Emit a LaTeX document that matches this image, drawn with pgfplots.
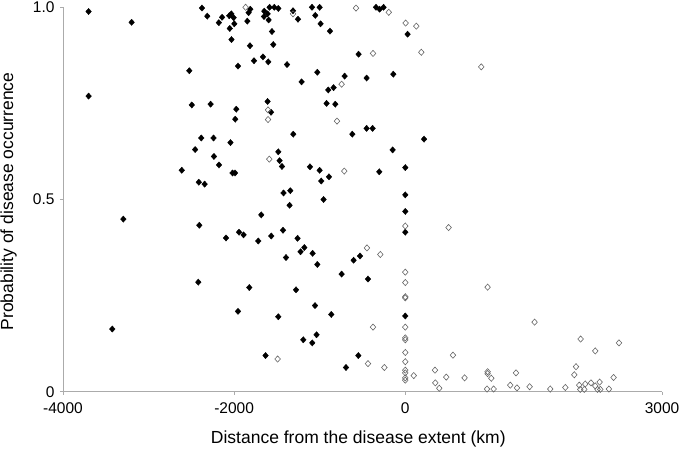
\documentclass[border=0pt]{standalone}
\usepackage{fontspec}
\setmainfont{Liberation Sans}
\usepackage{pgfplots}
\pgfplotsset{compat=1.18}

\begin{document}
\begin{tikzpicture}
  % fix the page to the reference proportions (1px = 1pt)
  \useasboundingbox (-63pt,-58.3pt) rectangle (617pt,391.7pt);
  \begin{axis}[
      at={(0,0)}, anchor=south west,
      scale only axis,
      width=599pt, height=384.4pt,
      xmin=-4000, xmax=3000,
      ymin=0, ymax=1,
      axis lines*=left,
      axis line style={draw=black!33, line width=0.9pt},
      tick style={draw=black!33, line width=0.9pt},
      tick align=outside,
      major tick length=3pt,
      xtick={-4000,-2000,0,3000},
      xticklabels={-4000,-2000,0,3000},
      ytick={0,0.5,1},
      yticklabels={0,0.5,1.0},
      ticklabel style={font=\fontsize{15.5}{17}\selectfont},
      xticklabel style={yshift=-4pt},
      yticklabel style={xshift=-2pt},
      /pgf/number format/assume math mode=true,
      clip=false,
    ]

    % locations inside the disease extent (filled)
    \addplot[only marks, mark=diamond*, mark size=3.1pt, black,
             mark options={xscale=1.2}] coordinates {
      (-3701,0.989) (-3198,0.961) (-2376,0.998) (-2314,0.977) (-2179,0.960)
      (-2141,0.974) (-2057,0.978) (-2033,0.983) (-2051,0.945) (-2006,0.973)
      (-1998,0.957) (-2031,0.916) (-1955,0.847) (-2524,0.835) (-3701,0.769)
      (-2495,0.746) (-2275,0.748) (-1975,0.735) (-1987,0.709) (-2384,0.660)
      (-2241,0.660) (-2043,0.648) (-2456,0.630) (-2236,0.612) (-2177,0.590)
      (-2612,0.576) (-2019,0.569) (-1989,0.569) (-2413,0.545) (-2345,0.540)
      (-1811,0.995) (-1831,0.986) (-1846,0.964) (-1648,0.990) (-1609,0.983)
      (-1651,0.976) (-1597,0.967) (-1586,1.000) (-1531,1.000) (-1484,0.997)
      (-1312,0.991) (-1254,0.969) (-1090,1.000) (-1001,1.000) (-1052,0.979)
      (-990,0.957) (-880,0.938) (-342,1.000) (-300,0.995) (-254,1.000)
      (27,0.930) (-1558,0.937) (-1543,0.903) (-1815,0.900) (-1768,0.861)
      (-1663,0.871) (-1601,0.858) (-1382,0.851) (-546,0.878) (-1028,0.831)
      (-1212,0.806) (-709,0.821) (-838,0.791) (-900,0.785) (-452,0.816)
      (-140,0.826) (-1609,0.755) (-1569,0.727) (-920,0.750) (-818,0.748)
      (-1309,0.670) (-619,0.670) (-452,0.685) (-382,0.685) (-1484,0.624)
      (-1469,0.601) (-1441,0.586) (-1114,0.585) (-1001,0.576) (-982,0.548)
      (-892,0.559) (-304,0.572) (-148,0.629) (0,0.583) (0,0.512)
      (-1423,0.517) (-1344,0.523) (-955,0.500) (219,0.657)
      (-3295,0.449) (-2407,0.433) (-2095,0.400) (-1943,0.415) (-2419,0.285)
      (-1955,0.209) (-3424,0.163)
      (0,0.469) (0,0.415) (-1352,0.485) (-1683,0.460) (-1890,0.408)
      (-1718,0.392) (-1566,0.405) (-1429,0.420) (-1259,0.399) (-1224,0.364)
      (-1180,0.375) (-1083,0.360) (-1394,0.349) (-1028,0.331) (-604,0.342)
      (-529,0.353) (-744,0.306) (-436,0.293) (-1823,0.271) (-1277,0.265)
      (-1055,0.224) (-1484,0.195) (-865,0.201) (0,0.197) (-1192,0.135)
      (-1037,0.148) (-1087,0.127) (-1633,0.094) (-549,0.094) (-693,0.063)
    };

    % locations outside the disease extent (open)
    \addplot[only marks, mark=diamond, mark size=3.1pt,
             mark options={xscale=1.2, draw=black!60, fill=white, line width=0.6pt}] coordinates {
      (-1866,1.000) (-1312,0.983) (-576,0.998) (-193,0.987) (4,0.959)
      (129,0.951) (-377,0.880) (187,0.883) (888,0.845) (-744,0.800)
      (-1604,0.733) (-1604,0.708) (-798,0.704) (-1589,0.605) (-713,0.574)
      (0,0.431) (506,0.427) (-448,0.374) (-292,0.357) (0,0.311)
      (0,0.284) (0,0.247) (0,0.244) (962,0.272) (0,0.168)
      (-377,0.168) (1511,0.181) (0,0.140) (0,0.135) (2049,0.137)
      (2497,0.127) (2220,0.106) (557,0.095) (0,0.102) (0,0.078)
      (-245,0.063) (-436,0.073) (-1492,0.085) (0,0.056) (0,0.049)
      (0,0.036) (0,0.030) (99,0.042) (347,0.056) (351,0.023)
      (397,0.009) (479,0.038) (693,0.036) (962,0.052) (962,0.047)
      (1005,0.035) (955,0.007) (1032,0.007) (1294,0.049) (1227,0.017)
      (1305,0.010) (1453,0.013) (1694,0.007) (1870,0.011) (1995,0.065)
      (1975,0.044) (2033,0.017) (2045,0.006) (2103,0.020) (2092,0.006)
      (2170,0.023) (2220,0.015) (2247,0.006) (2271,0.025) (2279,0.006)
      (2380,0.007) (2434,0.037)
    };

    \node[font=\fontsize{17.5}{20}\selectfont] at (axis description cs:0.493,-0.124)
      {Distance from the disease extent (km)};
    \node[font=\fontsize{17.5}{20}\selectfont, rotate=90] at (axis description cs:-0.091,0.495)
      {Probability of disease occurrence};
  \end{axis}
\end{tikzpicture}
\end{document}
